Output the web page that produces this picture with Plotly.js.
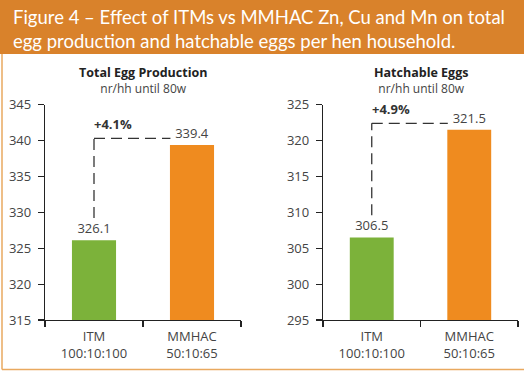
<!DOCTYPE html>
<html>
<head>
<meta charset="utf-8">
<script src="https://cdn.plot.ly/plotly-3.0.1.min.js"></script>
<style>
  html, body { margin: 0; padding: 0; background: #ffffff; }
  #chart { width: 524px; height: 373px; }
</style>
</head>
<body>
<div id="chart"></div>
<script>
// ---- data ----
const categories = ["ITM<br>100:10:100", "MMHAC<br>50:10:65"];
const totalEggs = [326.1, 339.4];
const hatchableEggs = [306.5, 321.5];
const chartTitles = ["Total Egg Production", "Hatchable Eggs"];
const chartSubtitle = "nr/hh until 80w";
const figureTitle = "Figure 4 – Effect of ITMs vs MMHAC Zn, Cu and Mn on total<br>egg production and hatchable eggs per hen household.";
const yRanges = [[315, 345], [295, 325]];
const barColors = ["#7cb23a", "#ef8b1f"];

// ---- layout helpers (pixel -> paper) ----
const W = 524, H = 373;
const px = v => v / W;
const py = v => 1 - v / H;

const FONT = "Open Sans, Liberation Sans, sans-serif";
const axisColor = "#222222";

function barTrace(vals, xa, ya) {
  return {
    type: "bar",
    x: categories,
    y: vals,
    xaxis: xa, yaxis: ya,
    width: 0.45,
    marker: { color: barColors, line: { width: 0 } },
    text: vals.map(v => v.toFixed(1)),
    textposition: "outside",
    textfont: { family: FONT, size: 13, color: "#444444" },
    cliponaxis: false,
    hoverinfo: "x+y",
    showlegend: false
  };
}

const data = [
  barTrace(totalEggs, "x", "y"),
  barTrace(hatchableEggs, "x2", "y2")
];

function xAxis(domain, anchor) {
  return {
    domain: domain, anchor: anchor, type: "category",
    showline: true, linecolor: axisColor, linewidth: 1.2,
    ticks: "outside", tickson: "boundaries", ticklen: 6, tickcolor: axisColor, tickwidth: 1.2,
    ticklabelstandoff: 4,
    showgrid: false, zeroline: false,
    tickfont: { family: FONT, size: 13, color: "#444444" },
    fixedrange: true
  };
}
function yAxis(range, anchor) {
  return {
    domain: [py(320), py(104.7)], anchor: anchor, range: range, dtick: 5,
    showline: true, linecolor: axisColor, linewidth: 1.2,
    ticks: "outside", ticklen: 6, tickcolor: axisColor, tickwidth: 1.2,
    ticklabelstandoff: 4,
    showgrid: false, zeroline: false,
    tickfont: { family: FONT, size: 13, color: "#444444" },
    fixedrange: true
  };
}

const domains = [[px(45), px(241)], [px(323), px(518)]];
const series = [totalEggs, hatchableEggs];
const axRefs = [["x", "y"], ["x2", "y2"]];

const shapes = [
  // header band
  { type: "rect", xref: "paper", yref: "paper", x0: 0, x1: 1, y0: py(54), y1: 1,
    fillcolor: "#d9822b", line: { width: 0 }, layer: "below" },
  // frame (left + bottom)
  { type: "line", xref: "paper", yref: "paper", x0: px(2), x1: px(2), y0: py(54), y1: py(369.5),
    line: { color: "#e9a95f", width: 1.5 } },
  { type: "line", xref: "paper", yref: "paper", x0: px(2), x1: 1, y0: py(369.5), y1: py(369.5),
    line: { color: "#e9a95f", width: 1.5 } }
];

const annotations = [
  { xref: "paper", yref: "paper", x: px(11), y: py(4), xanchor: "left", yanchor: "top",
    text: figureTitle, showarrow: false, align: "left",
    font: { family: "Lato, Open Sans, sans-serif", size: 18.5, color: "#ffffff" } }
];

series.forEach((vals, i) => {
  const [xa, ya] = axRefs[i];
  const lower = vals[0] + 3.1;
  const upper = vals[1] + 0.9;
  const dash = { color: "#333333", width: 1.3, dash: "11px,6px" };
  shapes.push({ type: "line", xref: xa, yref: ya, x0: 0, x1: 0, y0: lower, y1: upper, line: dash });
  shapes.push({ type: "line", xref: xa, yref: ya, x0: 0, x1: 0.78, y0: upper, y1: upper, line: dash });
  const pct = (vals[1] - vals[0]) / vals[0] * 100;
  annotations.push({ xref: xa, yref: ya, x: 0, y: upper, xanchor: "left", yanchor: "middle",
    xshift: -2, yshift: 14, showarrow: false, text: "<b>+" + pct.toFixed(1) + "%</b>",
    font: { family: FONT, size: 13, color: "#333333" } });
  const cx = (domains[i][0] + domains[i][1]) / 2;
  annotations.push({ xref: "paper", yref: "paper", x: cx, y: py(80), xanchor: "center", yanchor: "middle",
    showarrow: false, align: "center",
    text: "<b><span style='color:#222222;font-size:12.5px'>" + chartTitles[i] + "</span></b><br>" + chartSubtitle,
    font: { family: FONT, size: 12, color: "#444444" } });
});

const layout = {
  width: W, height: H,
  margin: { l: 0, r: 0, t: 0, b: 0 },
  paper_bgcolor: "#ffffff", plot_bgcolor: "rgba(0,0,0,0)",
  font: { family: FONT, color: "#444444" },
  xaxis: xAxis(domains[0], "y"),
  yaxis: yAxis(yRanges[0], "x"),
  xaxis2: xAxis(domains[1], "y2"),
  yaxis2: yAxis(yRanges[1], "x2"),
  bargap: 0.55,
  shapes: shapes,
  annotations: annotations,
  showlegend: false
};

Plotly.newPlot("chart", data, layout, { staticPlot: true, displayModeBar: false });
</script>
</body>
</html>
